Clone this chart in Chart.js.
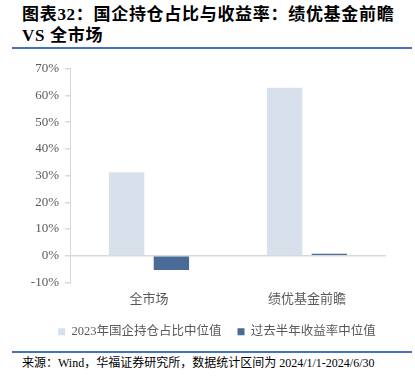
<!DOCTYPE html>
<html>
<head>
<meta charset="utf-8">
<script src="https://cdn.jsdelivr.net/npm/chart.js@4/dist/chart.umd.min.js"></script>
<style>
  body { margin: 0; background: #fff; width: 415px; height: 384px; position: relative; overflow: hidden; }
  .title { position: absolute; left: 22px; top: 4px; font-family: "Liberation Serif", "Noto Sans CJK SC", serif; font-weight: bold; font-size: 17px; line-height: 21px; letter-spacing: 0.7px; color: #000; }
  .rule { position: absolute; left: 12px; width: 400px; height: 2px; background: #4472c4; }
  .source { position: absolute; left: 22px; top: 353px; font-family: "Liberation Serif", "Noto Sans CJK SC", serif; font-size: 12px; color: #000; }
  #chartBox { position: absolute; left: 0; top: 55px; width: 415px; height: 293px; }
</style>
</head>
<body>
<div class="title">图表32：国企持仓占比与收益率：绩优基金前瞻<br>VS 全市场</div>
<div class="rule" style="top:47px"></div>
<div id="chartBox"><canvas id="barChart"></canvas></div>
<div class="rule" style="top:351px"></div>
<div class="source">来源：Wind，华福证券研究所，数据统计区间为 2024/1/1-2024/6/30</div>
<script>
const categories = ["全市场", "绩优基金前瞻"];
const holdingShare = [31.3, 62.9]; // 2023年国企持仓占比中位值 (%)
const halfYearReturn = [-5.3, 0.8]; // 过去半年收益率中位值 (%)
const seriesNames = ["2023年国企持仓占比中位值", "过去半年收益率中位值"];

const labelFont = { family: "'Liberation Serif', 'Noto Sans CJK SC', serif", size: 13 };
const axisGray = "#d9d9d9";

// nudge the legend to the right, the way the original sits
const legendShift = {
  id: "legendShift",
  afterUpdate(chart) {
    chart.legend.left += 24;
    chart.legend.right += 24;
  },
};

const ctx = document.getElementById("barChart").getContext("2d");
new Chart(ctx, {
  type: "bar",
  data: {
    labels: categories,
    datasets: [
      {
        label: seriesNames[0],
        data: holdingShare,
        backgroundColor: "#d7e0eb",
        categoryPercentage: 0.567,
        barPercentage: 0.79,
      },
      {
        label: seriesNames[1],
        data: halfYearReturn,
        backgroundColor: "#4a6a97",
        categoryPercentage: 0.567,
        barPercentage: 0.79,
      },
    ],
  },
  options: {
    responsive: true,
    maintainAspectRatio: false,
    animation: false,
    layout: { padding: { top: 12, right: 29, left: 0, bottom: 0 } },
    scales: {
      x: {
        grid: { display: false, drawTicks: false },
        border: { display: false },
        ticks: { color: "#595959", font: labelFont, padding: 9 },
        afterFit: (scale) => { scale.height = 27; },
      },
      y: {
        min: -10,
        max: 70,
        ticks: {
          stepSize: 10,
          color: "#595959",
          font: labelFont,
          padding: 6,
          callback: (v) => v + "%",
        },
        grid: {
          color: (c) => (c.tick && c.tick.value === 0 ? axisGray : "rgba(0,0,0,0)"),
          tickColor: axisGray,
          tickLength: 5,
          lineWidth: 1.5,
        },
        border: { display: true, color: axisGray },
        afterFit: (scale) => { scale.width = 70; },
      },
    },
    plugins: {
      legend: {
        position: "bottom",
        labels: {
          boxWidth: 7,
          boxHeight: 7,
          padding: 16,
          color: "#595959",
          font: { family: labelFont.family, size: 12.5 },
        },
      },
      tooltip: { enabled: false },
    },
  },
  plugins: [legendShift],
});
</script>
</body>
</html>
